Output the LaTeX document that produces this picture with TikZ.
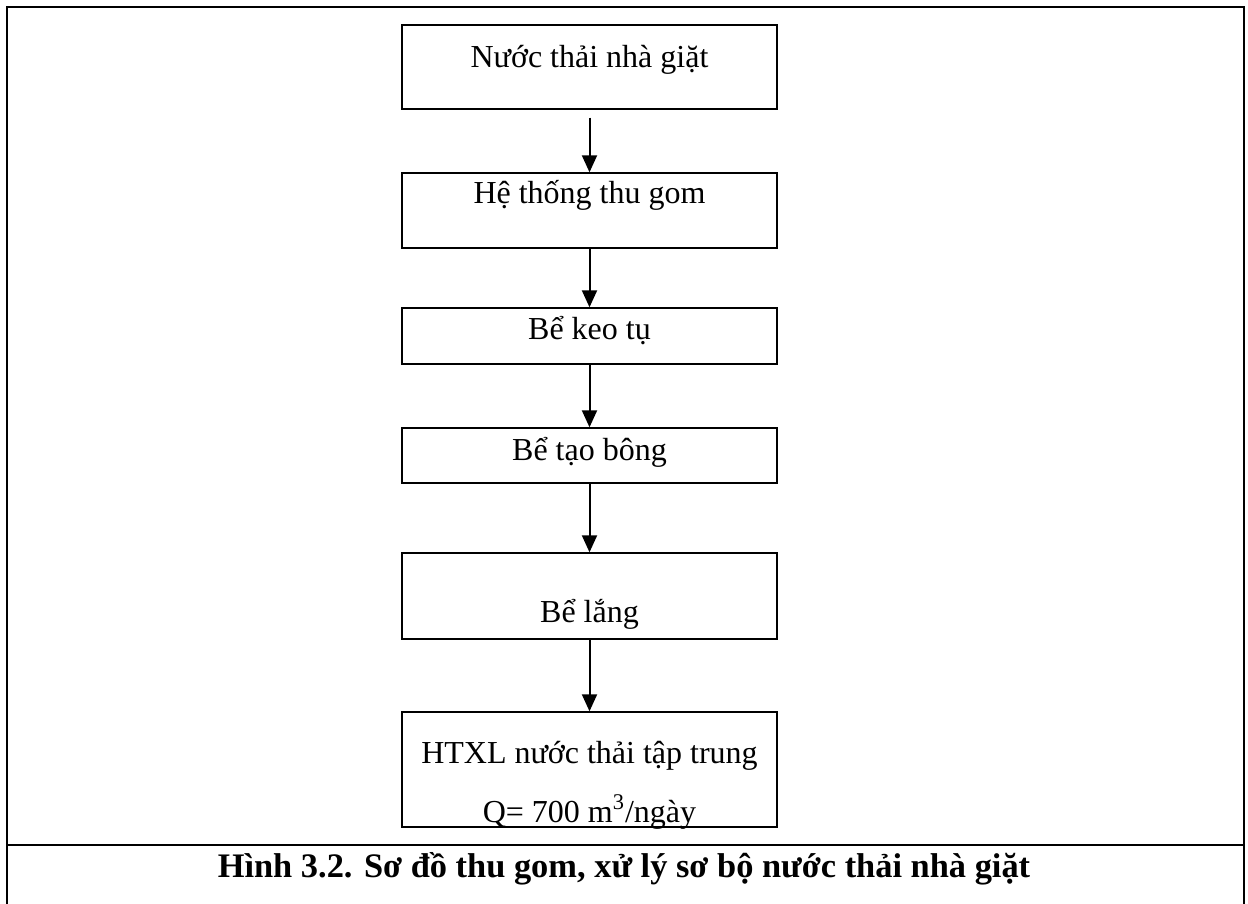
\documentclass[tikz,border=0pt]{standalone}
\usepackage{fontspec}
\setmainfont{Liberation Serif}
\usetikzlibrary{arrows.meta}
\begin{document}
\begin{tikzpicture}[x=0.5pt,y=-0.5pt,
  stepbox/.style={draw,line width=0.7pt,minimum width=187.5pt,inner sep=0pt},
  txt/.style={anchor=base,inner sep=0pt,font=\fontsize{16}{19}\selectfont},
  captxt/.style={anchor=base,inner sep=0pt,font=\fontsize{17.2}{21}\selectfont\bfseries},
  flow/.style={line width=1pt,-{Triangle[width=7.5pt,length=8.5pt]}},
  framestyle/.style={line width=1pt}]
\useasboundingbox (0,0) rectangle (1248,904);
% frame
\draw[framestyle] (7,904) -- (7,7) -- (1244,7) -- (1244,904);
\draw[framestyle] (7,845) -- (1244,845);
% boxes
\node[stepbox,minimum height=42pt] (b1) at (589.5,67) {};
\node[stepbox,minimum height=37.5pt] (b2) at (589.5,210.5) {};
\node[stepbox,minimum height=28pt] (b3) at (589.5,336) {};
\node[stepbox,minimum height=27.5pt] (b4) at (589.5,455.5) {};
\node[stepbox,minimum height=43pt] (b5) at (589.5,596) {};
\node[stepbox,minimum height=57.5pt] (b6) at (589.5,769.5) {};
% texts
\node[txt] (t1) at (589.5,68) {Nước thải nhà giặt};
\node[txt] (t2) at (589.5,204) {Hệ thống thu gom};
\node[txt] (t3) at (589.5,339) {Bể keo tụ};
\node[txt] (t4) at (589.5,460) {Bể tạo bông};
\node[txt] (t5) at (589.5,622) {Bể lắng};
\node[txt] (t6a) at (589.5,763) {HTXL nước thải tập trung};
\node[txt] (t6b) at (589.5,822) {Q= 700 m\textsuperscript{3}/ngày};
\node[captxt] (c) at (624,877) {Hình 3.2. Sơ đồ thu gom, xử lý sơ bộ nước thải nhà giặt};
% arrows
\draw[flow] ([yshift=-4pt]b1.south) -- (b2.north);
\draw[flow] (b2.south) -- (b3.north);
\draw[flow] (b3.south) -- (b4.north);
\draw[flow] (b4.south) -- (b5.north);
\draw[flow] (b5.south) -- (b6.north);
\end{tikzpicture}
\end{document}
